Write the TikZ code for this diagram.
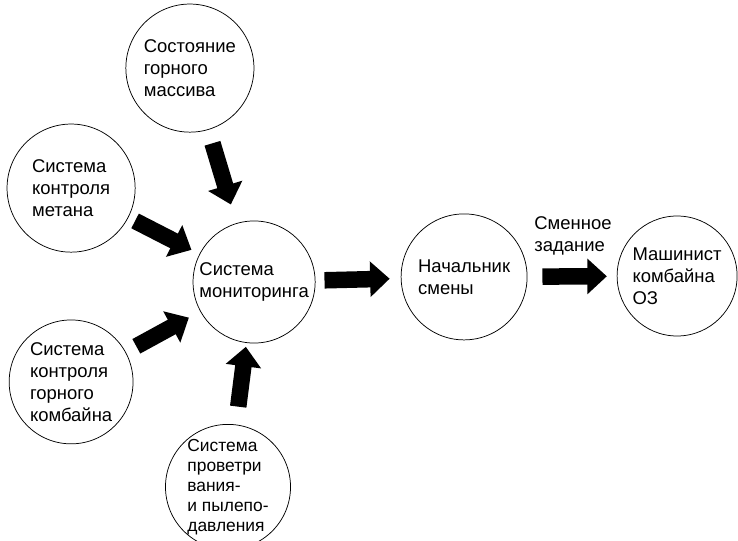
\documentclass[tikz,border=0pt]{standalone}
\usepackage{fontspec}
\setmainfont{Liberation Sans}
\usetikzlibrary{arrows.meta}

\begin{document}
\begin{tikzpicture}[
  blob/.style={draw,circle,line width=0.7pt,inner sep=0pt,align=left,font=\fontsize{17.5}{21}\selectfont},
  fat/.style={line width=0.55cm,-{Triangle[width=1.15cm,length=0.65cm]}}]
\fill[white] (0,0) rectangle (24.6,18);
\useasboundingbox (0,0) rectangle (24.6,18);
\node[blob,minimum size=4.27cm] (mass) at (6.33,15.73) {Состояние\\горного\\массива};
\node[blob,minimum size=4.27cm] (methane) at (2.37,11.73) {Система\\контроля\\метана};
\node[blob,minimum size=4.07cm] (monitor) at (8.47,8.6) {Система\\мониторинга};
\node[blob,minimum size=4.13cm] (combine) at (2.37,5.27) {Система\\контроля\\горного\\комбайна};
\node[blob,minimum size=4cm,font=\fontsize{16.5}{19}\selectfont] (vent) at (7.6,1.77) {Система\\проветри\\вания-\\и пылепо-\\давления};
\node[blob,minimum size=4.2cm] (chief) at (15.47,8.77) {Начальник\\смены};
\node[blob,minimum size=4cm] (driver) at (22.57,8.8) {Машинист\\комбайна\\ОЗ};
\node[align=left,font=\fontsize{17.5}{21}\selectfont] (task) at (19.1,10.13) {Сменное\\задание};
\draw[fat,shorten <=0.47cm,shorten >=0.65cm] (mass) -- (monitor);
\draw[fat,shorten <=0.25cm,shorten >=0.3cm] (methane) -- (monitor);
\draw[fat,shorten <=0.4cm,shorten >=0.43cm] (combine) -- (monitor);
\draw[fat,shorten <=0.6cm,shorten >=0.13cm] (vent) -- (monitor);
\draw[fat,shorten <=0.3cm,shorten >=0.37cm] (monitor) -- (chief);
\draw[fat,shorten <=0.5cm,shorten >=0.33cm] (chief) -- (driver);
\end{tikzpicture}
\end{document}
